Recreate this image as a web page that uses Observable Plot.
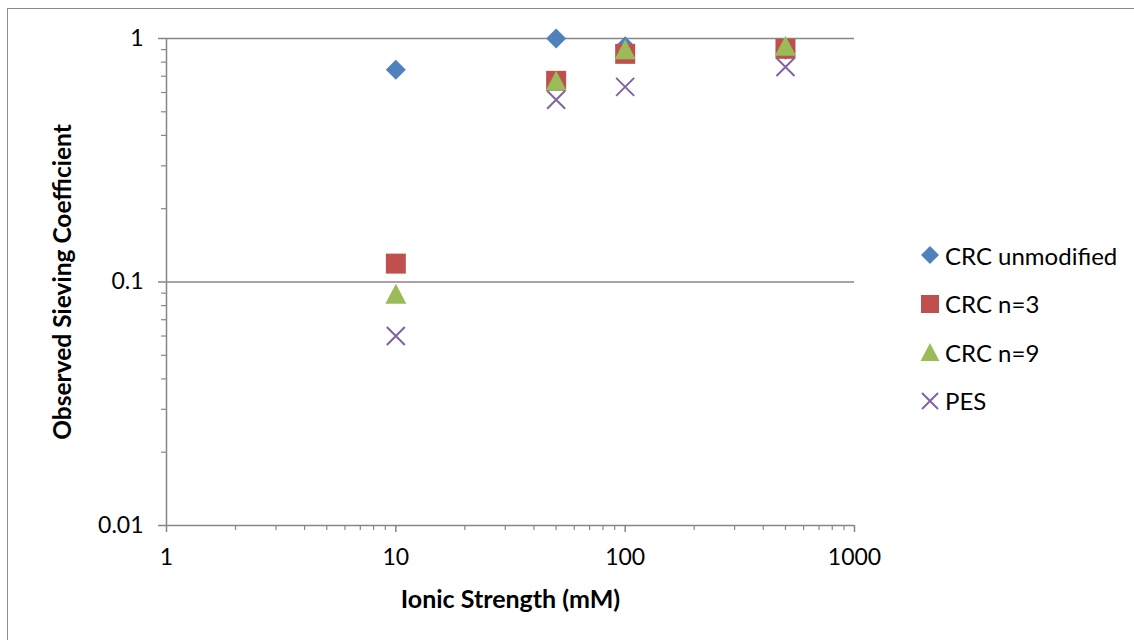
<!DOCTYPE html>
<html>
<head>
<meta charset="utf-8">
<script src="https://cdn.jsdelivr.net/npm/d3@7"></script>
<script src="https://cdn.jsdelivr.net/npm/@observablehq/plot@0.6"></script>
<style>
  html, body { margin: 0; padding: 0; background: #fff; overflow: hidden; }
  #wrap { position: relative; width: 1134px; height: 640px; overflow: hidden; font-family: Lato, "Open Sans", sans-serif; }
  #frame { position: absolute; left: 7px; top: 8px; width: 1200px; height: 700px; border: 1px solid #8c8c8c; box-sizing: border-box; }
  #chart { position: absolute; left: 0; top: 0; }
  #legend { position: absolute; left: 918px; top: 231px; }
  .item { display: flex; align-items: center; height: 48.5px; font-size: 24px; color: #000; }
  .item svg { display: block; }
  .item span { margin-left: 3px; }
</style>
</head>
<body>
<div id="wrap">
  <div id="frame"></div>
  <div id="chart"></div>
  <div id="legend"></div>
</div>
<script>
// Sieving coefficient vs. ionic strength for each membrane
const ionicStrength = [10, 50, 100, 500];
const seriesNames = ["CRC unmodified", "CRC n=3", "CRC n=9", "PES"];
const crcUnmodified = [0.745, 1.0, 0.93, 0.9];
const crcN3 = [0.119, 0.67, 0.865, 0.907];
const crcN9 = [0.0894, 0.67, 0.903, 0.933];
const pes = [0.06, 0.56, 0.633, 0.764];
const seriesColors = ["#4F81BD", "#C0504D", "#9BBB59", "#8064A2"];

// Axis ticks
const xTicks = [1, 10, 100, 1000];
const xTickLabels = ["1", "10", "100", "1000"];
const yTicks = [0.01, 0.1, 1];
const yTickLabels = ["0.01", "0.1", "1"];

// Minor ticks at 2..9 within each decade
const minorBetween = (lo, hi) => {
  const out = [];
  for (let d = lo; d < hi; d *= 10) for (let k = 2; k <= 9; k++) out.push(+(k * d).toPrecision(3));
  return out;
};
const xMinor = minorBetween(1, 1000);
const yMinor = minorBetween(0.01, 1);

// Marker shapes, sized from the dot radius
const radius = (size) => Math.sqrt(size / Math.PI);
const diamond = { draw(ctx, size) { const r = radius(size); ctx.moveTo(0, -r); ctx.lineTo(r, 0); ctx.lineTo(0, r); ctx.lineTo(-r, 0); ctx.closePath(); } };
const square = { draw(ctx, size) { const r = radius(size); ctx.rect(-r, -r, 2 * r, 2 * r); } };
const triangle = { draw(ctx, size) { const r = radius(size); ctx.moveTo(0, -r); ctx.lineTo(r * 1.05, r); ctx.lineTo(-r * 1.05, r); ctx.closePath(); } };
const cross = { draw(ctx, size) { const r = radius(size); ctx.moveTo(-r, -r); ctx.lineTo(r, r); ctx.moveTo(r, -r); ctx.lineTo(-r, r); } };

const seriesValues = [crcUnmodified, crcN3, crcN9, pes];
const seriesSymbols = [diamond, square, triangle, cross];
const seriesRadius = [10, 10, 10, 9];

const rows = (values) => ionicStrength.map((x, i) => ({ x, y: values[i] }));

const gray = "#868686";
const font = "Lato, 'Open Sans', sans-serif";

const dotMarks = seriesValues.map((vals, s) => {
  const isStroke = seriesSymbols[s] === cross;
  return Plot.dot(rows(vals), {
    x: "x", y: "y",
    symbol: seriesSymbols[s],
    r: seriesRadius[s],
    fill: isStroke ? "none" : seriesColors[s],
    stroke: isStroke ? seriesColors[s] : "none",
    strokeWidth: isStroke ? 2 : 0
  });
});

const chart = Plot.plot({
  width: 1134,
  height: 640,
  marginLeft: 166,
  marginRight: 280,
  marginTop: 38,
  marginBottom: 115,
  style: { fontFamily: font, fontSize: "23px", background: "transparent", color: "black", overflow: "visible" },
  x: { type: "log", domain: [1, 1000] },
  y: { type: "log", domain: [0.01, 1] },
  marks: [
    Plot.ruleY([0.1, 1], { stroke: gray, strokeWidth: 1.5 }),
    Plot.ruleX([1], { stroke: gray, strokeWidth: 1.5 }),
    Plot.ruleY([0.01], { stroke: gray, strokeWidth: 1.5 }),
    Plot.axisY(yTicks, {
      anchor: "left", tickSize: 8, tickPadding: 15, label: null,
      tickFormat: (d) => yTickLabels[yTicks.indexOf(d)],
      stroke: gray, strokeWidth: 1.5, fill: "black", fontSize: 23
    }),
    Plot.axisY(yMinor, { anchor: "left", tickSize: 5, label: null, stroke: gray, strokeWidth: 1.2, fill: "none" }),
    Plot.axisX(xTicks, {
      anchor: "bottom", tickSize: 7, tickPadding: 16, label: null,
      tickFormat: (d) => xTickLabels[xTicks.indexOf(d)],
      stroke: gray, strokeWidth: 1.5, fill: "black", fontSize: 23
    }),
    Plot.axisX(xMinor, { anchor: "bottom", tickSize: 5, label: null, stroke: gray, strokeWidth: 1.2, fill: "none" }),
    ...dotMarks,
    Plot.text(["Ionic Strength (mM)"], { text: (d) => d, frameAnchor: "bottom", dy: 82, textAnchor: "middle", fontWeight: "bold", fontSize: 25 }),
    Plot.text(["Observed Sieving Coefficient"], { text: (d) => d, frameAnchor: "left", dx: -103, textAnchor: "middle", rotate: -90, fontWeight: "bold", fontSize: 24.5 })
  ]
});
document.getElementById("chart").appendChild(chart);

// Legend: one row per series, same marker shapes as the plot
const legend = d3.select("#legend");
seriesNames.forEach((name, s) => {
  const item = legend.append("div").attr("class", "item");
  const svg = item.append("svg").attr("width", 24).attr("height", 24);
  const p = d3.path();
  const r = s === 3 ? 8 : 9;
  seriesSymbols[s].draw(p, Math.PI * r * r);
  const isStroke = seriesSymbols[s] === cross;
  svg.append("path")
    .attr("transform", "translate(12,12)")
    .attr("d", p.toString())
    .attr("fill", isStroke ? "none" : seriesColors[s])
    .attr("stroke", isStroke ? seriesColors[s] : "none")
    .attr("stroke-width", isStroke ? 2 : 0);
  item.append("span").text(name);
});
</script>
</body>
</html>
